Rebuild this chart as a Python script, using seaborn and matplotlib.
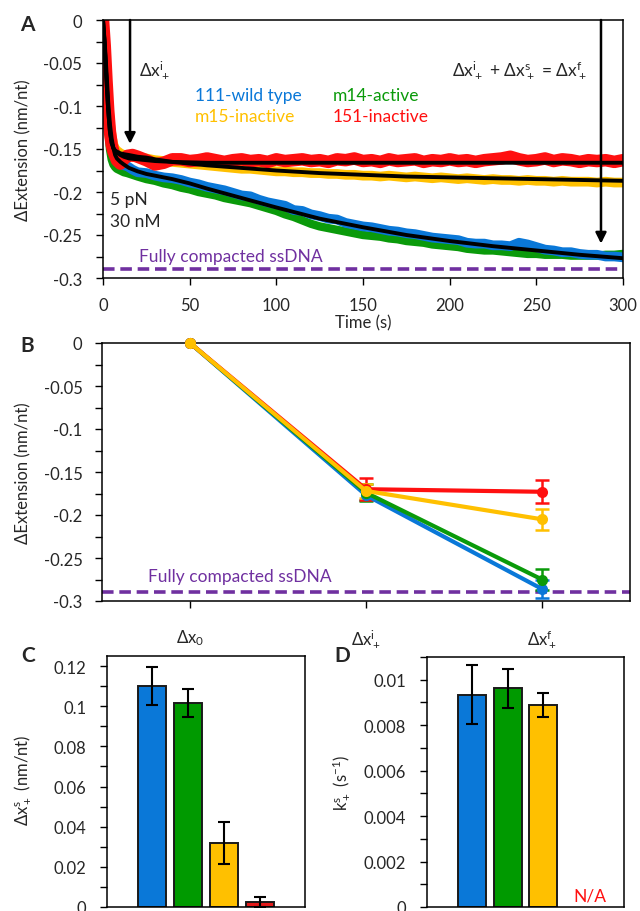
import numpy as np
import pandas as pd
import matplotlib
matplotlib.use('Agg')
import matplotlib.pyplot as plt
from matplotlib.ticker import AutoMinorLocator, MultipleLocator, FuncFormatter
import seaborn as sns

sns.set_style('ticks')
plt.rcParams['font.family'] = ['Lato', 'DejaVu Sans']
plt.rcParams['mathtext.fontset'] = 'custom'
plt.rcParams['mathtext.rm'] = 'Lato'
plt.rcParams['mathtext.default'] = 'regular'
plt.rcParams['axes.unicode_minus'] = False
plt.rcParams['axes.edgecolor'] = 'black'

BLUE = '#0A78D8'
GREEN = '#0A9A0A'
YELLOW = '#FFC000'
RED = '#FF1010'
PURPLE = '#7030A0'

# ---- panel A: compaction traces ----
t_trace = [0, 1, 2, 3, 4, 5, 6, 7, 8, 10, 12, 14, 17, 20,
           25, 30, 35, 40, 45, 50, 55, 60, 65, 70, 75, 80, 85, 90, 95, 100,
           105, 110, 115, 120, 125, 130, 135, 140, 145, 150, 155, 160, 165, 170,
           175, 180, 185, 190, 195, 200, 205, 210, 215, 220, 225, 230, 235, 240,
           245, 250, 255, 260, 265, 270, 275, 280, 285, 290, 295, 300]

trace_blue = [0, -0.03, -0.065, -0.1, -0.125, -0.14, -0.152, -0.158, -0.162, -0.166, -0.169, -0.170, -0.174, -0.177,
              -0.178, -0.181, -0.183, -0.184, -0.186, -0.189, -0.191, -0.194, -0.196, -0.198,
              -0.201, -0.204, -0.205, -0.209, -0.212, -0.214, -0.216, -0.221, -0.222, -0.226,
              -0.228, -0.231, -0.232, -0.236, -0.238, -0.240, -0.241, -0.243, -0.245, -0.246,
              -0.248, -0.249, -0.251, -0.253, -0.254, -0.255, -0.256, -0.259, -0.260, -0.260,
              -0.262, -0.262, -0.263, -0.259, -0.261, -0.264, -0.267, -0.268, -0.270, -0.270,
              -0.272, -0.273, -0.273, -0.275, -0.275, -0.276]

trace_green = [0, -0.045, -0.09, -0.125, -0.15, -0.162, -0.168, -0.171, -0.173, -0.175, -0.177, -0.178, -0.180, -0.182,
               -0.185, -0.187, -0.190, -0.192, -0.195, -0.197, -0.200, -0.202, -0.204, -0.207,
               -0.209, -0.211, -0.213, -0.216, -0.219, -0.222, -0.226, -0.229, -0.233, -0.237,
               -0.240, -0.242, -0.244, -0.246, -0.248, -0.250, -0.251, -0.252, -0.254, -0.255,
               -0.257, -0.258, -0.259, -0.261, -0.262, -0.263, -0.264, -0.266, -0.267, -0.268,
               -0.268, -0.269, -0.270, -0.271, -0.272, -0.272, -0.273, -0.273, -0.273, -0.274,
               -0.274, -0.274, -0.274, -0.273, -0.273, -0.272]

trace_red = [0, -0.03, -0.07, -0.105, -0.13, -0.145, -0.153, -0.158, -0.163, -0.167, -0.162, -0.158, -0.157, -0.159,
             -0.163, -0.168, -0.166, -0.162, -0.162, -0.164, -0.163, -0.161, -0.163, -0.165,
             -0.163, -0.162, -0.164, -0.163, -0.165, -0.162, -0.164, -0.163, -0.162, -0.164,
             -0.163, -0.165, -0.162, -0.163, -0.161, -0.164, -0.163, -0.165, -0.162, -0.164,
             -0.163, -0.162, -0.165, -0.163, -0.164, -0.162, -0.164, -0.163, -0.165, -0.163,
             -0.162, -0.161, -0.159, -0.162, -0.164, -0.163, -0.161, -0.164, -0.162, -0.163,
             -0.165, -0.163, -0.164, -0.163, -0.165, -0.163]

trace_yellow = [0, -0.025, -0.06, -0.095, -0.12, -0.135, -0.145, -0.150, -0.152, -0.155, -0.157, -0.158, -0.159, -0.160,
                -0.161, -0.163, -0.164, -0.165, -0.166, -0.167, -0.168, -0.169, -0.170, -0.171,
                -0.172, -0.173, -0.173, -0.174, -0.175, -0.176, -0.176, -0.177, -0.177, -0.178,
                -0.178, -0.179, -0.179, -0.180, -0.180, -0.181, -0.181, -0.182, -0.181, -0.182,
                -0.183, -0.182, -0.183, -0.184, -0.183, -0.184, -0.185, -0.184, -0.185, -0.186,
                -0.185, -0.186, -0.186, -0.187, -0.186, -0.187, -0.187, -0.188, -0.187, -0.188,
                -0.188, -0.188, -0.189, -0.188, -0.189, -0.189]

t_fit = [0, 1, 2, 3, 4, 5, 6, 7, 8, 10, 12, 15, 20, 25, 30, 40, 50, 60, 80, 100,
         125, 150, 175, 200, 225, 250, 275, 300]
fit_lower = [0, -0.026, -0.06, -0.095, -0.121, -0.138, -0.149, -0.157, -0.161, -0.165, -0.168, -0.172,
             -0.176, -0.179, -0.181, -0.185, -0.19, -0.196, -0.207, -0.218, -0.231, -0.241, -0.25,
             -0.257, -0.263, -0.268, -0.273, -0.277]
fit_red = [0, -0.03, -0.07, -0.105, -0.13, -0.143, -0.149, -0.152, -0.154, -0.157, -0.159, -0.161,
           -0.162, -0.163, -0.164, -0.165, -0.1655, -0.166, -0.166, -0.166, -0.166, -0.166, -0.166,
           -0.166, -0.166, -0.166, -0.166, -0.166]
fit_yellow = [0, -0.03, -0.07, -0.105, -0.13, -0.143, -0.149, -0.152, -0.153, -0.155, -0.156, -0.157,
              -0.159, -0.160, -0.162, -0.165, -0.167, -0.169, -0.172, -0.175, -0.178, -0.180, -0.182,
              -0.183, -0.184, -0.185, -0.186, -0.187]

full_compaction = -0.29

# ---- panel B: summary of extension changes ----
b_cats = [r'Δx$_0$', r'Δx$_+^{i}$', r'Δx$_+^{f}$']
b_blue = [0, -0.177, -0.286]
b_blue_err = [0, 0.006, 0.011]
b_green = [0, -0.174, -0.275]
b_green_err = [0, 0.010, 0.012]
b_red = [0, -0.170, -0.173]
b_red_err = [0, 0.013, 0.0135]
b_yellow = [0, -0.172, -0.205]
b_yellow_err = [0, 0.008, 0.012]

# ---- panels C, D: slow phase amplitude and rate ----
bar_names = ['111-wild type', 'm14-active', 'm15-inactive', '151-inactive']
bar_colors = [BLUE, '#009A00', YELLOW, '#E31B1B']
c_vals = [0.110, 0.1015, 0.032, 0.0023]
c_errs = [0.0093, 0.0071, 0.0104, 0.0025]
d_vals = [0.00935, 0.00963, 0.0089, np.nan]
d_errs = [0.0013, 0.00086, 0.00053, np.nan]


def fmt_general(v, pos):
    return f'{round(v, 6) + 0.0:g}'


def style_axes(ax, ypad=10, xpad=10):
    for s in ax.spines.values():
        s.set_visible(True)
        s.set_linewidth(1.1)
        s.set_color('black')
    ax.tick_params(axis='both', which='both', direction='out', color='black',
                   labelsize=12, width=1.0)
    ax.tick_params(axis='y', which='major', length=5, pad=ypad)
    ax.tick_params(axis='y', which='minor', length=5)
    ax.tick_params(axis='x', which='major', length=5, pad=xpad)
    ax.yaxis.set_major_formatter(FuncFormatter(fmt_general))
    ax.yaxis.set_minor_locator(AutoMinorLocator(2))


fig = plt.figure(figsize=(6.4, 9.12), dpi=100)

# ================= A =================
axA = fig.add_axes([103 / 640, 1 - 279 / 912, 520 / 640, 258 / 912])
for y, c, lw in [(trace_green, GREEN, 6), (trace_blue, BLUE, 7),
                 (trace_yellow, YELLOW, 7), (trace_red, RED, 9)]:
    sns.lineplot(x=t_trace, y=y, ax=axA, color=c, lw=lw, estimator=None, sort=False)
for y in [fit_lower, fit_yellow, fit_red]:
    sns.lineplot(x=t_fit, y=y, ax=axA, color='black', lw=2.8, estimator=None, sort=False)
axA.axhline(full_compaction, color=PURPLE, lw=2.6, ls=(0, (3.2, 1.6)))
axA.set_xlim(0, 300)
axA.set_ylim(-0.3, 0)
axA.xaxis.set_major_locator(MultipleLocator(50))
axA.yaxis.set_major_locator(MultipleLocator(0.05))
style_axes(axA, ypad=10, xpad=9)
axA.set_ylabel('ΔExtension (nm/nt)', fontsize=12)
axA.yaxis.set_label_coords(-0.137, 0.5)
axA.set_xlabel('Time (s)', fontsize=12)
axA.xaxis.set_label_coords(0.5, -0.14)

arrow_kw = dict(arrowstyle='-|>', lw=1.8, color='black', mutation_scale=16, shrinkA=0, shrinkB=0)
axA.annotate('', xy=(15.6, -0.144), xytext=(15.6, 0.0), arrowprops=arrow_kw)
axA.annotate('', xy=(287.3, -0.26), xytext=(287.3, 0.0), arrowprops=arrow_kw)
axA.text(20.8, -0.057, r'Δx$_+^{i}$', fontsize=12.5, ha='left', va='center')
axA.text(279.5, -0.057, r'Δx$_+^{i}$ + Δx$_+^{s}$ = Δx$_+^{f}$', fontsize=12.5, ha='right', va='center')
axA.text(53, -0.087, '111-wild type', color=BLUE, fontsize=12.5, ha='left', va='center')
axA.text(53, -0.1116, 'm15-inactive', color=YELLOW, fontsize=12.5, ha='left', va='center')
axA.text(132.7, -0.087, 'm14-active', color=GREEN, fontsize=12.5, ha='left', va='center')
axA.text(132.7, -0.1116, '151-inactive', color=RED, fontsize=12.5, ha='left', va='center')
axA.text(4, -0.208, '5 pN', fontsize=12.5, ha='left', va='center')
axA.text(4, -0.234, '30 nM', fontsize=12.5, ha='left', va='center')
axA.text(20.8, -0.2744, 'Fully compacted ssDNA', color=PURPLE, fontsize=12.5, ha='left', va='center')

# ================= B =================
axB = fig.add_axes([102 / 640, 1 - 602 / 912, 528 / 640, 258 / 912])
axB.axhline(full_compaction, color=PURPLE, lw=2.6, ls=(0, (3.2, 1.6)), zorder=1)
xb = [0, 1, 2]
for vals, errs, c in [(b_blue, b_blue_err, BLUE), (b_green, b_green_err, GREEN),
                      (b_red, b_red_err, RED), (b_yellow, b_yellow_err, YELLOW)]:
    axB.errorbar(xb[1:], vals[1:], yerr=errs[1:], fmt='none', ecolor=c,
                 elinewidth=1.8, capsize=5, capthick=1.8, zorder=2)
    sns.lineplot(x=xb, y=vals, ax=axB, color=c, lw=3, marker='o', markersize=8,
                 markeredgewidth=0, estimator=None, sort=False, zorder=3, clip_on=False)
axB.set_xlim(-0.5, 2.5)
axB.set_ylim(-0.3, 0)
axB.set_xticks(xb)
axB.set_xticklabels(b_cats)
axB.yaxis.set_major_locator(MultipleLocator(0.05))
style_axes(axB, ypad=9, xpad=14)
axB.set_ylabel('ΔExtension (nm/nt)', fontsize=12)
axB.yaxis.set_label_coords(-0.133, 0.5)
axB.set_xlabel('')
axB.text(-0.238, -0.271, 'Fully compacted ssDNA', color=PURPLE, fontsize=12.5, ha='left', va='center')

# ================= C =================
axC = fig.add_axes([107 / 640, 1 - 908 / 912, 198 / 640, 251 / 912])
dfC = pd.DataFrame({'name': bar_names, 'val': c_vals})
sns.barplot(data=dfC, x='name', y='val', hue='name', palette=bar_colors, ax=axC, saturation=1,
            width=0.78, edgecolor='#1a1a1a', linewidth=1.4, legend=False, errorbar=None)
axC.errorbar(range(4), c_vals, yerr=c_errs, fmt='none', ecolor='black',
             elinewidth=1.5, capsize=4.5, capthick=1.5, zorder=5)
axC.set_xlim(-1.25, 4.25)
axC.set_ylim(0, 0.125)
axC.yaxis.set_major_locator(MultipleLocator(0.02))
style_axes(axC, ypad=10)
axC.set_xticks([])
axC.set_xlabel('')
axC.set_ylabel(r'Δx$_+^{s}$ (nm/nt)', fontsize=12)
axC.yaxis.set_label_coords(-0.374, 0.51)

# ================= D =================
axD = fig.add_axes([427 / 640, 1 - 908 / 912, 197 / 640, 250 / 912])
dfD = pd.DataFrame({'name': bar_names, 'val': d_vals})
sns.barplot(data=dfD, x='name', y='val', hue='name', palette=bar_colors, ax=axD, saturation=1,
            width=0.78, edgecolor='#1a1a1a', linewidth=1.4, legend=False, errorbar=None)
axD.errorbar(range(3), d_vals[:3], yerr=d_errs[:3], fmt='none', ecolor='black',
             elinewidth=1.5, capsize=4.5, capthick=1.5, zorder=5)
axD.text(3.3, 0.0005, 'N/A', color=RED, fontsize=12.5, ha='center', va='center')
axD.set_xlim(-1.25, 4.25)
axD.set_ylim(0, 0.011)
axD.yaxis.set_major_locator(MultipleLocator(0.002))
style_axes(axD, ypad=10)
axD.set_xticks([])
axD.set_xlabel('')
axD.set_ylabel(r'k$_+^{s}$ (s$^{-1}$)', fontsize=12)
axD.yaxis.set_label_coords(-0.38, 0.5)

# panel letters
for letter, (px, py) in {'A': (27, 25), 'B': (27, 346), 'C': (28, 656), 'D': (342, 656)}.items():
    fig.text(px / 640, 1 - py / 912, letter, fontsize=15, fontweight='bold',
             ha='center', va='center')

fig.savefig('out.png', dpi=100)
